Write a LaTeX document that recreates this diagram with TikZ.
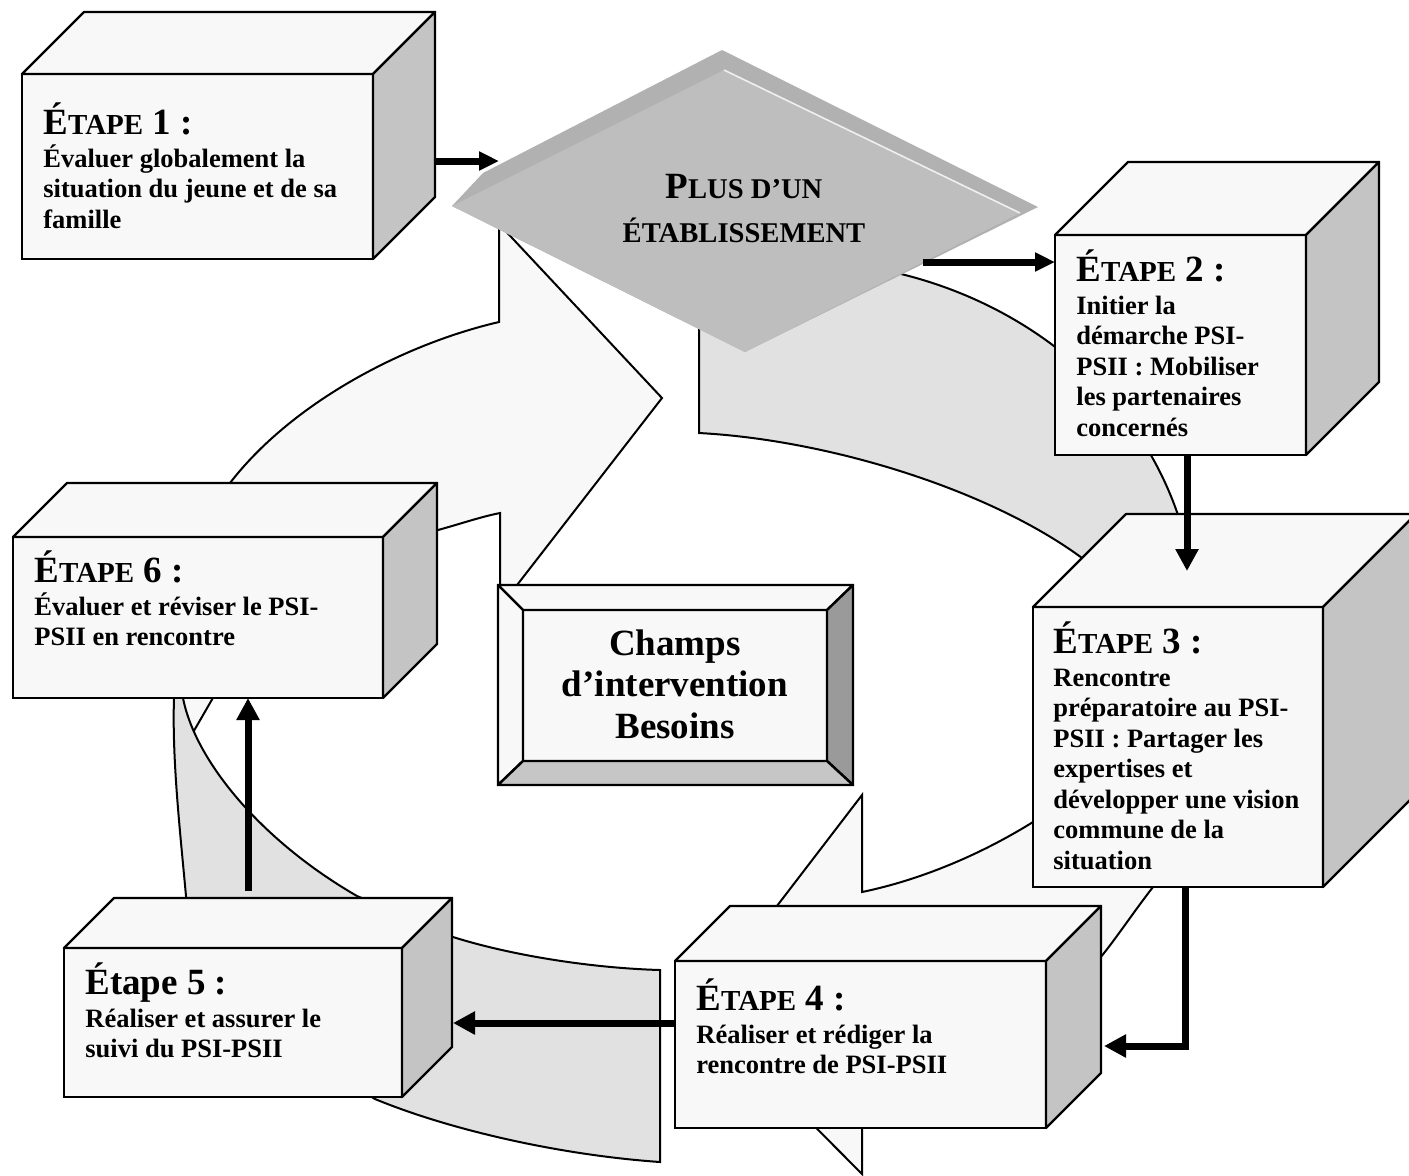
\documentclass[tikz,border=0pt]{standalone}
\usepackage{fontspec}
\setmainfont{Liberation Serif}
\usetikzlibrary{arrows.meta,fit}

\definecolor{pale}{HTML}{F8F8F8}
\definecolor{sidegray}{HTML}{C4C4C4}
\definecolor{bandgray}{HTML}{E1E1E1}
\definecolor{dmface}{HTML}{BEBEBE}
\definecolor{dmedge}{HTML}{B1B1B1}
\definecolor{bevdark}{HTML}{9A9A9A}
\definecolor{bevmid}{HTML}{C6C6C6}

\tikzset{
  front/.style={draw, fill=pale, line width=1.2pt, inner sep=0pt, outer sep=0pt},
  topface/.style={draw, fill=pale, line width=1.2pt, line join=round},
  sideface/.style={draw, fill=sidegray, line width=1.2pt, line join=round},
  bevel/.style={draw, line width=1.2pt, line join=round},
  lightarrow/.style={draw, fill=pale, line width=1pt},
  grayarrow/.style={draw, fill=bandgray, line width=1pt},
  flow/.style={line width=3.5pt, -{Triangle[length=11pt,width=11pt]}},
  steptxt/.style={anchor=base west, inner sep=0pt},
}

% title "ÉTAPE n :" with small capitals
\newcommand{\etape}[1]{{\fontsize{18.5}{20}\selectfont É\fontsize{14.5}{16}\selectfont TAPE\fontsize{18.5}{20}\selectfont\ #1 :}}
% title line then body lines, baseline = title baseline
\newcommand{\stepstack}[2]{\vtop{\fontsize{13.25}{15.25}\selectfont\lineskiplimit=-100pt\hbox{#1}\vskip1.25pt #2}}
\newcommand{\txtline}[1]{\hbox{#1}}
% top and side faces of a box node
\newcommand{\depthfaces}[2]{%
  \draw[topface] (#1.north west) -- ([shift={(#2,-#2)}]#1.north west)
    -- ([shift={(#2,-#2)}]#1.north east) -- (#1.north east) -- cycle;
  \draw[sideface] (#1.north east) -- ([shift={(#2,-#2)}]#1.north east)
    -- ([shift={(#2,-#2)}]#1.south east) -- (#1.south east) -- cycle;}

\begin{document}
\begin{tikzpicture}[x=0.5pt, y=-0.5pt, font=\bfseries]
  \fill[white] (0,0) rectangle (1409,1175);
  \useasboundingbox (0,0) rectangle (1409,1175);

  % cycle arrows in the background
  \draw[lightarrow] (180,755) -- (225,677) .. controls (300,590) and (380,545) .. (438,530)
    .. controls (460,524) and (480,517) .. (500,513) -- (500,607) -- (662,398) -- (499,224)
    -- (499,322) .. controls (400,345) and (290,405) .. (230,483)
    .. controls (200,530) and (182,620) .. (178,698) -- cycle;
  \draw[grayarrow] (699,240) -- (699,433) .. controls (830,440) and (990,490) .. (1082,558)
    -- (1075,620) -- (1170,760) -- (1300,600) -- (1215,590) -- (1178,515)
    .. controls (1135,389) and (1024,303) .. (897,273)
    .. controls (830,255) and (760,240) .. (699,240) -- cycle;
  \draw[lightarrow] (1230,760) -- (1050,812) -- (1033,822) .. controls (980,855) and (920,880) .. (862,892)
    -- (862,795) -- (698,1009) -- (862,1174) -- (862,1090)
    .. controls (960,1070) and (1050,1020) .. (1100,958)
    .. controls (1115,940) and (1135,910) .. (1153,887)
    .. controls (1180,860) and (1210,830) .. (1230,760) -- cycle;
  \draw[grayarrow] (660,970) -- (660,1162) .. controls (560,1155) and (450,1130) .. (375,1099)
    -- (360,1090) -- (190,960) -- (186,896) .. controls (180,830) and (172,760) .. (174,698)
    -- (178,600) -- (183,698) .. controls (195,760) and (260,840) .. (357,896) -- (453,937)
    .. controls (510,955) and (590,968) .. (660,970) -- cycle;

  % diamond
  \fill[dmedge] (452,206) -- (483,173) -- (722,50) -- (1038,207) -- (745,352) -- cycle;
  \fill[dmface] (452,206) -- (724,70) -- (1020,213) -- (745,352) -- cycle;
  \draw[white!75!dmface, line width=0.8pt] (724,70) -- (1020,213);
  \node[anchor=base, inner sep=0pt] (dmtxt) at (744,198) {\vtop{\baselineskip=22pt
    \hbox to 0pt{\hss{\fontsize{18.5}{20}\selectfont P}{\fontsize{14.3}{16}\selectfont LUS D’UN}\hss}
    \hbox to 0pt{\hss\fontsize{14.3}{16}\selectfont ÉTABLISSEMENT\hss}}};

  % steps
  \node[front, fit={(22,74) (373,259)}] (s1) {};
  \depthfaces{s1}{62}
  \node[front, fit={(1055,235) (1306,455)}] (s2) {};
  \depthfaces{s2}{73}
  \node[front, fit={(1033,607) (1323,887)}] (s3) {};
  \depthfaces{s3}{93}
  \node[front, fit={(675,961) (1046,1128)}] (s4) {};
  \depthfaces{s4}{55}
  \node[front, fit={(64,948) (402,1097)}] (s5) {};
  \depthfaces{s5}{50}
  \node[front, fit={(13,537) (383,698)}] (s6) {};
  \depthfaces{s6}{54}

  \node[steptxt] (t1) at (43,134) {\stepstack{\etape{1}}{\txtline{Évaluer globalement la}%
    \txtline{situation du jeune et de sa}\txtline{famille}}};
  \node[steptxt] (t2) at (1076,281) {\stepstack{\etape{2}}{\txtline{Initier la}%
    \txtline{démarche PSI-}\txtline{PSII : Mobiliser}\txtline{les partenaires}\txtline{concernés}}};
  \node[steptxt] (t3) at (1053,653) {\stepstack{\etape{3}}{\txtline{Rencontre}%
    \txtline{préparatoire au PSI-}\txtline{PSII : Partager les}\txtline{expertises et}%
    \txtline{développer une vision}\txtline{commune de la}\txtline{situation}}};
  \node[steptxt] (t4) at (696,1010) {\stepstack{\etape{4}}{\txtline{Réaliser et rédiger la}%
    \txtline{rencontre de PSI-PSII}}};
  \node[steptxt] (t5) at (85,994) {\stepstack{{\fontsize{18.5}{20}\selectfont Étape 5 :}}%
    {\txtline{Réaliser et assurer le}\txtline{suivi du PSI-PSII}}};
  \node[steptxt] (t6) at (34,582) {\stepstack{\etape{6}}{\txtline{Évaluer et réviser le PSI-}%
    \txtline{PSII en rencontre}}};

  % centre box
  \node[front, fit={(498,585) (853,785)}] (ch) {};
  \draw[bevel, fill=pale] (498,585) -- (853,585) -- (827,610) -- (523,610) -- cycle;
  \draw[bevel, fill=pale] (498,585) -- (523,610) -- (523,761) -- (498,785) -- cycle;
  \draw[bevel, fill=bevdark] (853,585) -- (827,610) -- (827,761) -- (853,785) -- cycle;
  \draw[bevel, fill=bevmid] (498,785) -- (523,761) -- (827,761) -- (853,785) -- cycle;
  \node[anchor=base, inner sep=0pt] (chtxt) at (675,655) {\vtop{\fontsize{18.5}{20.75}\selectfont
    \hbox to 0pt{\hss Champs\hss}\hbox to 0pt{\hss d’intervention\hss}\hbox to 0pt{\hss Besoins\hss}}};

  % flow between the steps
  \coordinate (dmL) at (499,161);
  \coordinate (dmR) at (923,262);
  \coordinate (s3top) at (1187,571);
  \coordinate (s4side) at (1104,1046);
  \coordinate (s5side) at (453,1023);
  \coordinate (s5top) at (248,891);
  \draw[flow, -{Triangle[length=10pt,width=9pt]}] ([shift={(62,-5.5)}]s1.east) -- (dmL);
  \draw[flow, -{Triangle[length=10pt,width=9pt]}] (dmR) -- ([shift={(0,27)}]s2.north west);
  \draw[flow] ([shift={(6.5,0)}]s2.south) -- (s3top);
  \draw[flow] ([shift={(7,0)}]s3.south) |- (s4side);
  \draw[flow] ([shift={(0,-21.5)}]s4.west) -- (s5side);
  \draw[flow] (s5top) -- ([shift={(50,0)}]s6.south);
\end{tikzpicture}
\end{document}
